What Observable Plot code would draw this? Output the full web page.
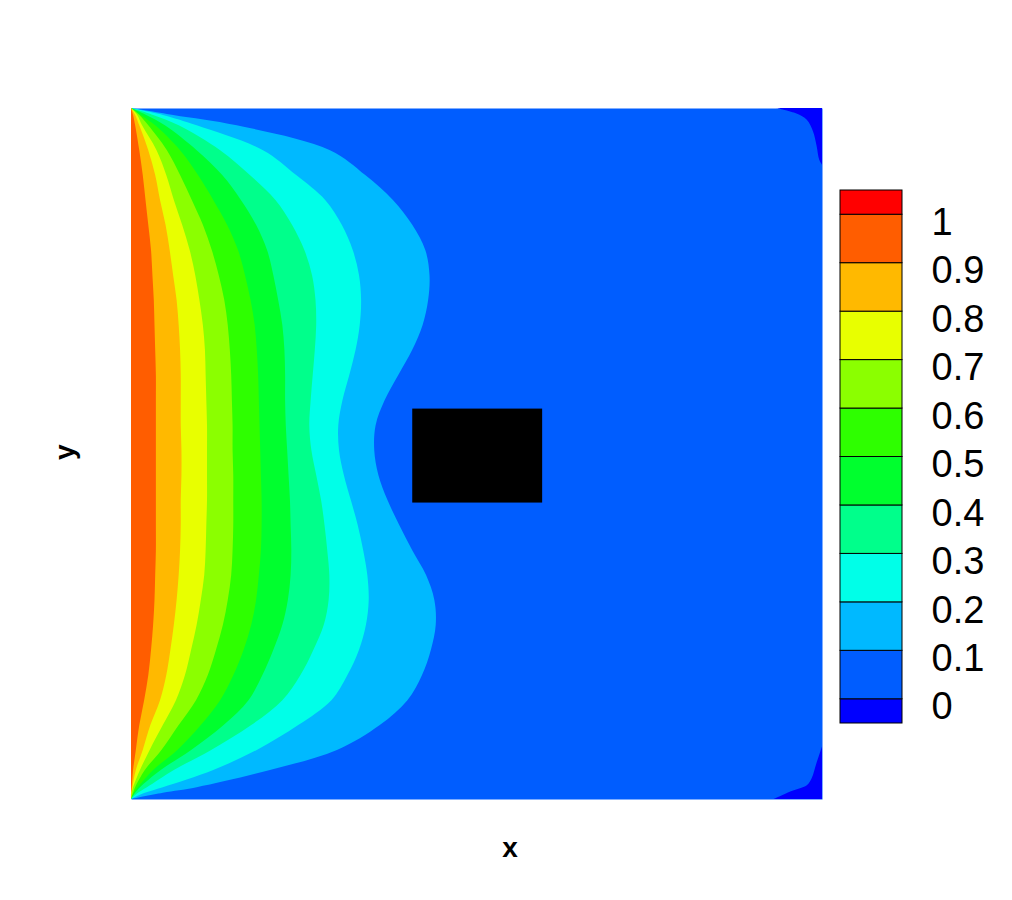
<!DOCTYPE html>
<html>
<head>
<meta charset="utf-8">
<script src="https://cdn.jsdelivr.net/npm/d3@7"></script>
<script src="https://cdn.jsdelivr.net/npm/@observablehq/plot@0.6"></script>
<style>
  html, body { margin: 0; padding: 0; background: #fff; }
  #wrap { position: relative; width: 1012px; height: 900px; font-family: "Liberation Sans", Arial, sans-serif; }
  #wrap svg { position: absolute; left: 0; top: 0; background: transparent; }
</style>
</head>
<body>
<div id="wrap"></div>
<script>
// Contour levels and legend labels
const levels = [0, 0.1, 0.2, 0.3, 0.4, 0.5, 0.6, 0.7, 0.8, 0.9, 1];
const tickLabels = ["0", "0.1", "0.2", "0.3", "0.4", "0.5", "0.6", "0.7", "0.8", "0.9", "1"];
// Band colours from below 0 up to above 1
const bandColors = ["#0000ff", "#005dff", "#00b9ff", "#00ffe8", "#00ff8b", "#00ff2e",
                    "#2eff00", "#8bff00", "#e8ff00", "#ffb900", "#ff5d00", "#ff0000"];

// y stations (bottom = 0, top = 1) at which the contour lines were read
const yRows = [1.000, 0.990, 0.975, 0.939, 0.903, 0.867, 0.831, 0.794, 0.758, 0.722, 0.686, 0.650,
               0.614, 0.577, 0.541, 0.505, 0.469, 0.433, 0.397, 0.360, 0.324, 0.288, 0.252, 0.216,
               0.179, 0.143, 0.107, 0.071, 0.042, 0.017, 0.009, 0.000];
// x position of each contour line at those stations
const contour01 = [0, 0.061, 0.153, 0.288, 0.339, 0.379, 0.407, 0.426, 0.432, 0.430, 0.422, 0.407,
                   0.387, 0.367, 0.354, 0.352, 0.358, 0.371, 0.388, 0.407, 0.427, 0.439, 0.441, 0.434,
                   0.421, 0.400, 0.360, 0.298, 0.201, 0.095, 0.046, 0];
const contour02 = [0, 0.046, 0.095, 0.191, 0.239, 0.281, 0.305, 0.321, 0.330, 0.333, 0.331, 0.325,
                   0.316, 0.306, 0.300, 0.301, 0.308, 0.318, 0.328, 0.336, 0.342, 0.344, 0.340, 0.330,
                   0.313, 0.290, 0.242, 0.182, 0.119, 0.046, 0.020, 0];
const contour03 = [0, 0.032, 0.069, 0.129, 0.172, 0.209, 0.233, 0.251, 0.262, 0.267, 0.268, 0.266,
                   0.263, 0.260, 0.258, 0.261, 0.268, 0.275, 0.280, 0.284, 0.287, 0.286, 0.279, 0.264,
                   0.245, 0.219, 0.174, 0.116, 0.062, 0.023, 0.010, 0];
const contour04 = [0, 0.022, 0.049, 0.095, 0.132, 0.159, 0.181, 0.197, 0.206, 0.213, 0.219, 0.222,
                   0.223, 0.223, 0.224, 0.226, 0.228, 0.230, 0.231, 0.232, 0.231, 0.227, 0.219, 0.206,
                   0.190, 0.170, 0.134, 0.087, 0.043, 0.013, 0.006, 0];
const contour05 = [0, 0.014, 0.035, 0.071, 0.097, 0.119, 0.139, 0.155, 0.165, 0.173, 0.179, 0.182,
                   0.184, 0.185, 0.186, 0.187, 0.188, 0.189, 0.189, 0.188, 0.185, 0.181, 0.174, 0.163,
                   0.148, 0.129, 0.101, 0.067, 0.032, 0.010, 0.004, 0];
const contour06 = [0, 0.012, 0.025, 0.052, 0.071, 0.088, 0.104, 0.117, 0.127, 0.135, 0.140, 0.143,
                   0.145, 0.146, 0.147, 0.147, 0.148, 0.148, 0.148, 0.147, 0.145, 0.140, 0.133, 0.123,
                   0.111, 0.094, 0.069, 0.044, 0.020, 0.006, 0.003, 0];
const contour07 = [0, 0.009, 0.016, 0.037, 0.051, 0.062, 0.074, 0.085, 0.093, 0.099, 0.104, 0.107,
                   0.108, 0.109, 0.110, 0.110, 0.110, 0.110, 0.109, 0.108, 0.106, 0.101, 0.095, 0.087,
                   0.078, 0.065, 0.046, 0.027, 0.013, 0.003, 0.001, 0];
const contour08 = [0, 0.006, 0.012, 0.025, 0.035, 0.042, 0.050, 0.056, 0.061, 0.066, 0.069, 0.071,
                   0.072, 0.072, 0.072, 0.073, 0.073, 0.072, 0.072, 0.071, 0.069, 0.066, 0.062, 0.057,
                   0.051, 0.042, 0.028, 0.017, 0.007, 0.002, 0.001, 0];
const contour09 = [0, 0.003, 0.006, 0.012, 0.017, 0.021, 0.025, 0.029, 0.031, 0.033, 0.034, 0.035,
                   0.036, 0.036, 0.036, 0.036, 0.036, 0.036, 0.036, 0.036, 0.035, 0.034, 0.032, 0.029,
                   0.025, 0.019, 0.012, 0.007, 0.003, 0.001, 0, 0];

// Small regions below 0 near the right-hand corners
const cornerTopY = [1.000, 0.992, 0.983, 0.966, 0.946, 0.925, 0.918];
const cornerTopX = [0.934, 0.963, 0.978, 0.987, 0.992, 0.996, 1.000];
const cornerBottomY = [0.076, 0.052, 0.030, 0.020, 0.011, 0.000];
const cornerBottomX = [1.000, 0.992, 0.985, 0.978, 0.954, 0.930];

// Solid obstacle
const obstacle = [{x1: 0.407, x2: 0.595, y1: 0.429, y2: 0.565}];

const contours = [contour01, contour02, contour03, contour04, contour05,
                  contour06, contour07, contour08, contour09];
const table = yRows.map((y, i) => ({y, c: contours.map(c => c[i])}));
const topCorner = cornerTopY.map((y, i) => ({y, x: cornerTopX[i]}));
const bottomCorner = cornerBottomY.map((y, i) => ({y, x: cornerBottomX[i]}));

const font = "'Liberation Sans', Arial, Helvetica, sans-serif";

const bandMarks = contours.map((_, k) =>
  Plot.areaX(table, {y: "y", x1: 0, x2: d => d.c[k], fill: bandColors[k + 2], curve: "catmull-rom"})
);

const main = Plot.plot({
  width: 1012,
  height: 900,
  marginLeft: 131,
  marginRight: 190,
  marginTop: 108,
  marginBottom: 101,
  style: {fontFamily: font, background: "transparent"},
  x: {domain: [0, 1], axis: null},
  y: {domain: [0, 1], axis: null},
  marks: [
    Plot.frame({fill: bandColors[1], stroke: null}),
    ...bandMarks,
    Plot.areaX(topCorner, {y: "y", x1: "x", x2: 1, fill: bandColors[0], curve: "catmull-rom"}),
    Plot.areaX(bottomCorner, {y: "y", x1: "x", x2: 1, fill: bandColors[0], curve: "catmull-rom"}),
    Plot.rect(obstacle, {x1: "x1", x2: "x2", y1: "y1", y2: "y2", fill: "black"}),
    Plot.text(["x"], {frameAnchor: "bottom", dx: 33, dy: 57, fontSize: 28, fontWeight: "bold", fill: "black"}),
    Plot.text(["y"], {frameAnchor: "left", dx: -66, dy: 6, rotate: -90, fontSize: 28, fontWeight: "bold", fill: "black"})
  ]
});

// Colour legend bands: half-width bands at both ends
const step = levels[1] - levels[0];
const edges = [levels[0] - step / 2, ...levels, levels[levels.length - 1] + step / 2];
const bands = bandColors.map((color, i) => ({lo: edges[i], hi: edges[i + 1], color}));
const labelRows = levels.map((v, i) => ({v, label: tickLabels[i]}));

const legend = Plot.plot({
  width: 1012,
  height: 900,
  marginLeft: 840,
  marginRight: 110,
  marginTop: 190,
  marginBottom: 177,
  style: {fontFamily: font, background: "transparent"},
  x: {domain: [0, 1], axis: null},
  y: {domain: [edges[0], edges[edges.length - 1]], axis: null},
  marks: [
    Plot.rect(bands, {x1: 0, x2: 1, y1: "lo", y2: "hi", fill: "color", stroke: "black", strokeWidth: 1}),
    Plot.text(labelRows, {x: 1, y: "v", text: "label", dx: 29, dy: 8, textAnchor: "start", fontSize: 38, fill: "black"})
  ]
});

const wrap = document.getElementById("wrap");
wrap.appendChild(main);
wrap.appendChild(legend);
</script>
</body>
</html>
